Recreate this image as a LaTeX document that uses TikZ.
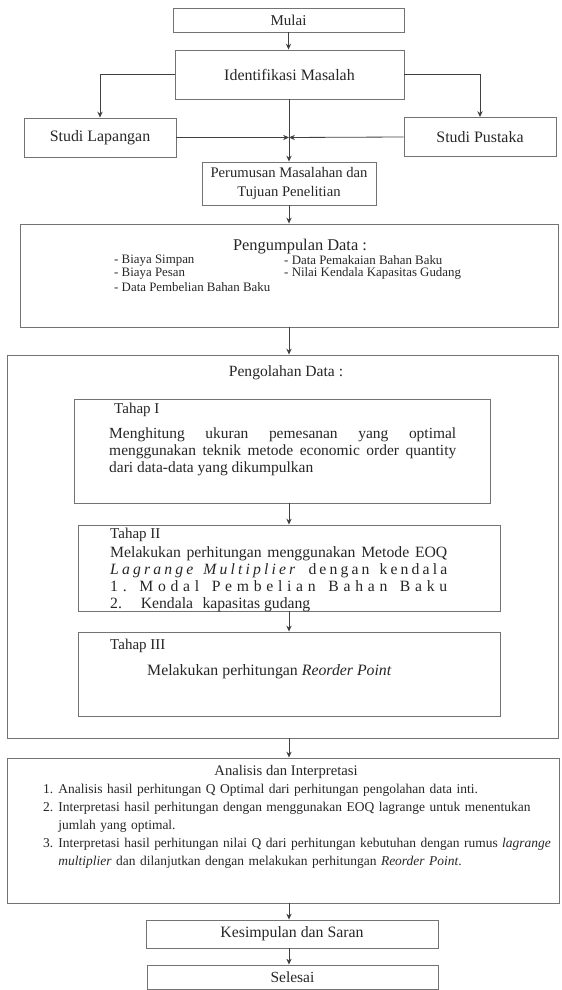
\documentclass[tikz,border=0pt]{standalone}
\usepackage{fontspec}
\setmainfont{Liberation Serif}
\usepackage{tikz}
\usetikzlibrary{arrows, arrows.meta, positioning, calc}

\newcommand{\fsz}[2]{\fontsize{#1}{#2}\selectfont}
\newcommand{\tracked}[2]{{\addfontfeature{LetterSpace=#1}#2}}
\newcommand{\itemno}[1]{\hangindent=13pt\hangafter=1\makebox[13pt][l]{#1}}
\frenchspacing

\begin{document}
\begin{tikzpicture}[
  x=0.03cm, y=-0.03cm,
  box/.style={rectangle, draw=black!55, line width=0.8pt, inner sep=0pt, text=black!85},
  cell/.style 2 args={box, minimum width=#1*0.03cm, minimum height=#2*0.03cm},
  txt/.style={inner sep=0pt, text=black!85, align=left},
  arr/.style={-{Stealth[length=5pt, width=4.5pt]}, draw=black!75, line width=0.7pt}
]
\useasboundingbox (0,0) rectangle (561,990);
\coordinate (axis) at (289,0);

% top part
\node[cell={231}{24}, font=\fsz{12.8pt}{15pt}] (mulai) at (288.5,20) {Mulai};
\node[cell={229}{49}, font=\fsz{13.6pt}{16pt}] (ident) at (289.5,74.5) {Identifikasi Masalah};
\node[cell={152}{39}, font=\fsz{13.6pt}{16pt}] (lap) at (100,137.5) {Studi Lapangan};
\node[cell={152}{39}, font=\fsz{13.6pt}{16pt}] (pus) at (480,137) {Studi Pustaka};
\node[cell={174}{43}, font=\fsz{12.5pt}{16pt}, align=center] (rumus) at (289,183.5)
  {Perumusan Masalahan dan\\Tujuan Penelitian};

% pengumpulan data
\node[cell={538}{103}] (kumpul) at (289,275.5) {};
\node[txt, font=\fsz{14pt}{16pt}] (kumpulT) at (300,247) {Pengumpulan Data :};
\foreach \i/\lbl in {0/Biaya Simpan, 1/Biaya Pesan, 2/Data Pembelian Bahan Baku}{
  \node[txt, anchor=west, font=\fsz{11pt}{13pt}] (kiri\i) at (114, 261+13*\i) {- \lbl};
}
\foreach \i/\lbl in {0/Data Pemakaian Bahan Baku, 1/Nilai Kendala Kapasitas Gudang}{
  \node[txt, anchor=west, font=\fsz{11pt}{13pt}] (kanan\i) at (284, 260+13*\i) {- \lbl};
}

% pengolahan data
\node[cell={551}{383}] (olah) at (282.5,546.5) {};
\node[txt, font=\fsz{13.3pt}{16pt}] (olahT) at (286,373) {Pengolahan Data :};

\node[cell={416}{104}] (t1) at (282,451) {};
\node[txt, anchor=west, font=\fsz{12.8pt}{15pt}] (t1T) at (114,410) {Tahap I};
\node[txt, anchor=north west, text width=10.41cm, align=justify, font=\fsz{13.2pt}{14.5pt}] (t1B) at (109,428)
  {Menghitung ukuran pemesanan yang optimal\linebreak
   menggunakan teknik metode economic order quantity\linebreak
   dari data-data yang dikumpulkan};

\node[cell={422}{86}] (t2) at (289,568) {};
\node[txt, anchor=west, font=\fsz{12.8pt}{15pt}] (t2T) at (110,535) {Tahap II};
\node[txt, anchor=north west, text width=10.11cm, align=justify, font=\fsz{13.4pt}{14.5pt}] (t2B) at (110,546)
  {Melakukan perhitungan menggunakan Metode EOQ\linebreak
   \tracked{20}{\textit{Lagrange Multiplier} dengan kendala}\linebreak
   \tracked{30}{1. Modal Pembelian Bahan Baku}\linebreak
   2.\hspace{1.2em}Kendala\hspace{0.6em}kapasitas gudang};

\node[cell={422}{84}] (t3) at (289,674) {};
\node[txt, anchor=west, font=\fsz{12.8pt}{15pt}] (t3T) at (110,646) {Tahap III};
\node[txt, anchor=west, font=\fsz{13.5pt}{15pt}] (t3B) at (147,672)
  {Melakukan perhitungan \textit{Reorder Point}};

% analisis
\node[cell={552}{145}] (anal) at (283,830.5) {};
\node[txt, font=\fsz{12.5pt}{15pt}] (analT) at (286,772) {Analisis dan Interpretasi};
\node[txt, anchor=north west, text width=16cm, font=\fsz{11.5pt}{15.4pt}] (analB) at (43,784)
  {\parindent=0pt
   \itemno{1.}Analisis hasil perhitungan Q Optimal dari perhitungan pengolahan data inti.\par
   \itemno{2.}Interpretasi hasil perhitungan dengan menggunakan EOQ lagrange untuk menentukan\hfil\break
   jumlah yang optimal.\par
   \itemno{3.}Interpretasi hasil perhitungan nilai Q dari perhitungan kebutuhan dengan rumus \textit{lagrange}\hfil\break
   \textit{multiplier} dan dilanjutkan dengan melakukan perhitungan \textit{Reorder Point}.\par};

\node[cell={292}{28}, font=\fsz{13.5pt}{15pt}] (simpul) at (292,934) {Kesimpulan dan Saran};
\node[cell={291}{24}, font=\fsz{13.2pt}{15pt}] (selesai) at (292.5,977) {Selesai};

% connectors
\draw[arr] (mulai.south) -- (mulai.south |- ident.north);
\draw[arr] (ident.west) -| (lap.north);
\draw[arr] (ident.east) -| (pus.north);
\coordinate (join) at (axis |- lap.east);
\draw[arr] (lap.east) -- (join);
\draw[arr] (pus.west) -- (join);
\foreach \a/\b in {ident/rumus, rumus/kumpul, kumpul/olah, t1/t2, t2/t3,
                   olah/anal, anal/simpul, simpul/selesai}{
  \draw[arr] (\a.south -| axis) -- (\b.north -| axis);
}
\end{tikzpicture}
\end{document}
